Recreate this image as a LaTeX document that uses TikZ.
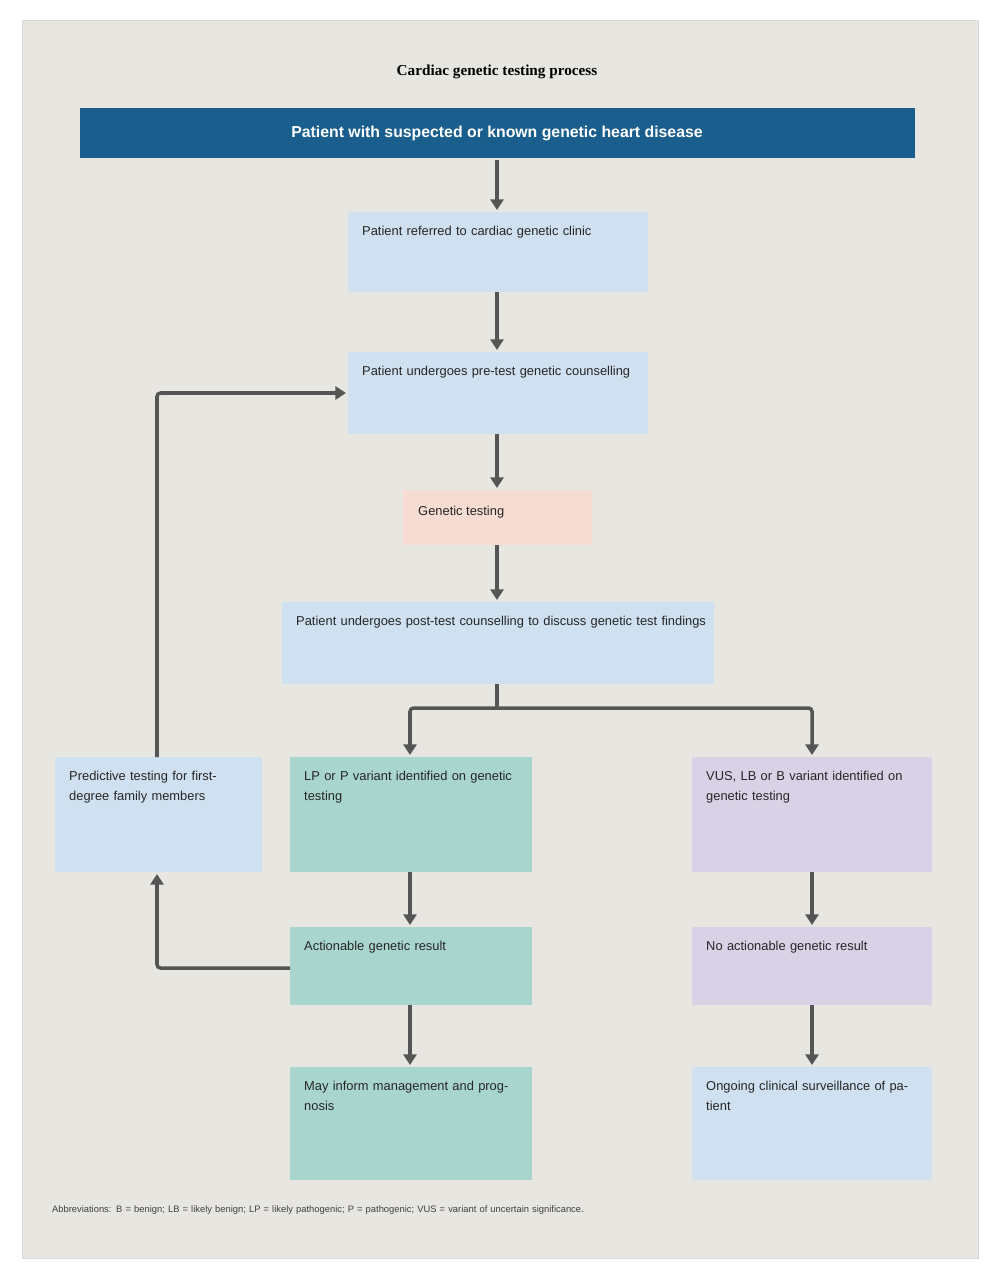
\documentclass[tikz,border=0pt]{standalone}
\usepackage{fontspec}
\setmainfont{Liberation Sans}
\newfontfamily\titlefont{Liberation Serif}
\usetikzlibrary{arrows.meta,calc}
\definecolor{bg}{HTML}{E8E6E1}
\definecolor{topblue}{HTML}{1A5E8E}
\definecolor{lblue}{HTML}{CFE0F0}
\definecolor{lpink}{HTML}{F6DCD2}
\definecolor{teal}{HTML}{A9D5CF}
\definecolor{lav}{HTML}{D9D1E6}
\definecolor{arr}{HTML}{555555}
\begin{document}
\begin{tikzpicture}[x=0.03cm,y=-0.03cm,
 box/.style={anchor=north west,inner sep=0pt,align=left,font=\fontsize{11}{17}\selectfont,text=black!85},
 conn/.style={draw=arr,line width=3pt,-{Triangle[length=9pt,width=11pt]}}]
\useasboundingbox (0,0) rectangle (1000,1278);
\fill[white] (0,0) rectangle (1000,1278);
\fill[bg,draw=black!15] (22,20) rectangle (978,1258);
\node[font=\titlefont\bfseries\fontsize{13}{15}\selectfont] (title) at (497,72) {Cardiac genetic testing process};
\fill[topblue] (80,108) rectangle (915,158);
\node[font=\bfseries\fontsize{13.5}{16}\selectfont,text=white] (top) at (497,133) {Patient with suspected or known genetic heart disease};
\fill[lblue] (348,212) rectangle (648,292);
\node[box,text width=270*0.03cm] (b1t) at (362,226) {Patient referred to cardiac genetic clinic};
\coordinate (b1n) at (497,212); \coordinate (b1s) at (497,292);
\fill[lblue] (348,352) rectangle (648,434);
\node[box,text width=270*0.03cm] (b2t) at (362,366) {Patient undergoes pre-test genetic counselling};
\coordinate (b2n) at (497,352); \coordinate (b2s) at (497,434); \coordinate (b2w) at (346,393);
\fill[lpink] (403,490) rectangle (592,545);
\node[box] (gtt) at (418,506) {Genetic testing};
\coordinate (gtn) at (497,490); \coordinate (gts) at (497,545);
\fill[lblue] (282,602) rectangle (714,684);
\node[box,text width=410*0.03cm] (ptt) at (296,616) {Patient undergoes post-test counselling to discuss genetic test findings};
\coordinate (ptn) at (497,602); \coordinate (pts) at (497,684);
\fill[lblue] (55,757) rectangle (262,872);
\node[box,text width=185*0.03cm] (prt) at (69,771) {Predictive testing for first-degree family members};
\coordinate (prn) at (157,757); \coordinate (prs) at (157,872);
\fill[teal] (290,757) rectangle (532,872);
\node[box,text width=215*0.03cm] (lpt) at (304,771) {LP or P variant identified on genetic testing};
\coordinate (lpn) at (410,757); \coordinate (lps) at (410,872);
\fill[lav] (692,757) rectangle (932,872);
\node[box,text width=215*0.03cm] (vut) at (706,771) {VUS, LB or B variant identified on genetic testing};
\coordinate (vun) at (812,757); \coordinate (vus) at (812,872);
\fill[teal] (290,927) rectangle (532,1005);
\node[box,text width=215*0.03cm] (act) at (304,941) {Actionable genetic result};
\coordinate (acn) at (410,927); \coordinate (acs) at (410,1005); \coordinate (acw) at (290,968);
\fill[lav] (692,927) rectangle (932,1005);
\node[box,text width=215*0.03cm] (nat) at (706,941) {No actionable genetic result};
\coordinate (nan) at (812,927); \coordinate (nas) at (812,1005);
\fill[teal] (290,1067) rectangle (532,1180);
\node[box,text width=215*0.03cm] (mit) at (304,1081) {May inform management and prognosis};
\coordinate (min) at (410,1067);
\fill[lblue] (692,1067) rectangle (932,1180);
\node[box,text width=215*0.03cm] (ogt) at (706,1081) {Ongoing clinical surveillance of patient};
\coordinate (ogn) at (812,1067);
\node[anchor=north west,align=left,text width=880*0.03cm,font=\fontsize{8}{12}\selectfont,text=black!75] (foot) at (48,1202) {Abbreviations: B = benign; LB = likely benign; LP = likely pathogenic; P = pathogenic; VUS = variant of uncertain significance.};
\coordinate (tops) at (497,160);
\draw[conn] (tops) -- ($(b1n)+(0,-2)$);
\draw[conn] (b1s) -- ($(b2n)+(0,-2)$);
\draw[conn] (b2s) -- ($(gtn)+(0,-2)$);
\draw[conn] (gts) -- ($(ptn)+(0,-2)$);
\coordinate (br) at (497,708);
\draw[draw=arr,line width=3pt] (pts) -- (br);
\draw[conn,rounded corners=3pt] (br) -| ($(lpn)+(0,-2)$);
\draw[conn,rounded corners=3pt] (br) -| ($(vun)+(0,-2)$);
\draw[conn] (lps) -- ($(acn)+(0,-2)$);
\draw[conn] (acs) -- ($(min)+(0,-2)$);
\draw[conn] (vus) -- ($(nan)+(0,-2)$);
\draw[conn] (nas) -- ($(ogn)+(0,-2)$);
\draw[conn,rounded corners=3pt] (prn) |- (b2w);
\draw[conn,rounded corners=3pt] (acw) -| ($(prs)+(0,2)$);
\end{tikzpicture}
\end{document}
